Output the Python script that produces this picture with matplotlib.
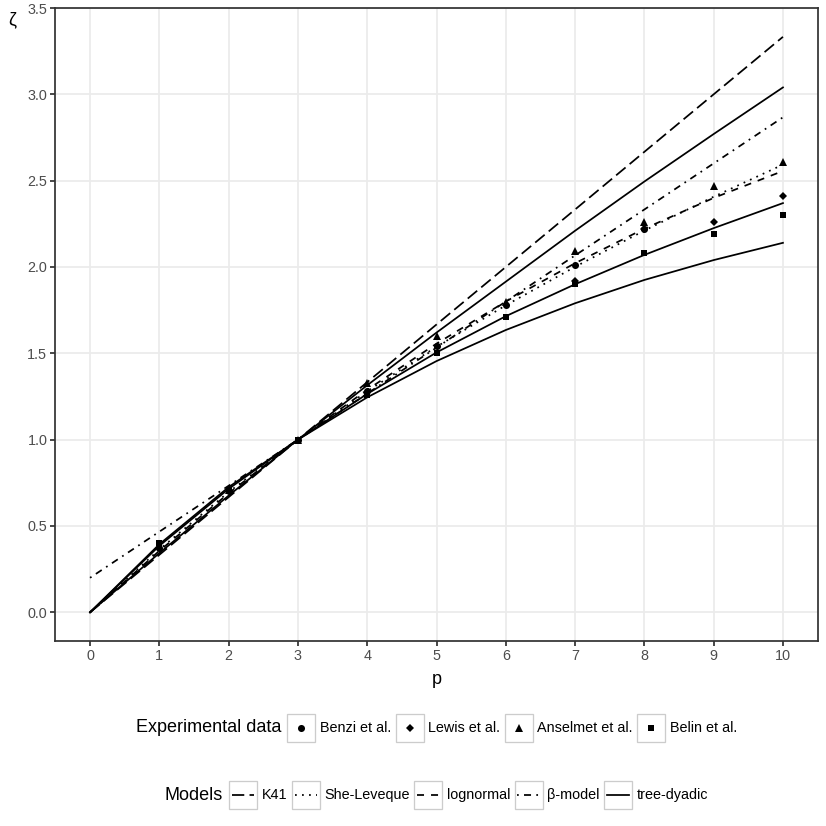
import numpy as np
import matplotlib
matplotlib.use('Agg')
import matplotlib.pyplot as plt
from matplotlib.patches import Rectangle

plt.rcParams['font.family'] = ['Liberation Sans', 'DejaVu Sans']

# model curves at p = 0..10
p = np.arange(0, 11)
k41 = [0, 0.333, 0.667, 1.0, 1.333, 1.667, 2.0, 2.333, 2.667, 3.0, 3.333]
she_leveque = [0, 0.364, 0.696, 1.0, 1.280, 1.538, 1.778, 2.001, 2.211, 2.407, 2.593]
lognormal = [0, 0.356, 0.689, 1.0, 1.289, 1.556, 1.800, 2.022, 2.222, 2.400, 2.556]
beta_model = [0.2, 0.467, 0.733, 1.0, 1.267, 1.533, 1.800, 2.067, 2.333, 2.600, 2.867]
tree_top = [0, 0.343, 0.676, 1.0, 1.315, 1.620, 1.915, 2.210, 2.495, 2.770, 3.040]
tree_mid = [0, 0.385, 0.715, 1.0, 1.265, 1.505, 1.715, 1.900, 2.070, 2.225, 2.370]
tree_low = [0, 0.394, 0.725, 1.0, 1.245, 1.455, 1.635, 1.790, 1.925, 2.040, 2.140]

# experimental data
benzi_p = [1, 2, 3, 4, 5, 6, 7, 8]
benzi_z = [0.37, 0.70, 1.0, 1.28, 1.54, 1.78, 2.01, 2.22]
lewis_p = [7, 8, 9, 10]
lewis_z = [1.92, 2.22, 2.26, 2.41]
anselmet_p = [2, 3, 4, 5, 6, 7, 8, 9, 10]
anselmet_z = [0.71, 1.0, 1.33, 1.60, 1.80, 2.09, 2.26, 2.47, 2.61]
belin_p = [1, 2, 3, 4, 5, 6, 7, 8, 9, 10]
belin_z = [0.40, 0.71, 1.0, 1.26, 1.50, 1.71, 1.90, 2.08, 2.19, 2.30]

data_labels = ['Benzi et al.', 'Lewis et al.', 'Anselmet et al.', 'Belin et al.']
model_labels = ['K41', 'She-Leveque', 'lognormal', 'β-model', 'tree-dyadic']

lw = 1.07
styles = {
    'K41': (0, (7, 3)),
    'She-Leveque': (0, (1, 3)),
    'lognormal': (0, (4, 4)),
    'β-model': (0, (1, 3, 4, 3)),
    'tree-dyadic': '-',
}
markers = {
    'Benzi et al.': ('o', 4.3),
    'Lewis et al.': ('D', 3.2),
    'Anselmet et al.': ('^', 5.0),
    'Belin et al.': ('s', 3.8),
}

W = 826
fig = plt.figure(figsize=(7, 7), dpi=118)
ax = fig.add_axes([55.4 / W, 1 - 641.1 / W, (817.6 - 55.4) / W, (641.1 - 8) / W])

ax.plot(p, k41, color='black', lw=lw, linestyle=styles['K41'])
ax.plot(p, she_leveque, color='black', lw=lw, linestyle=styles['She-Leveque'])
ax.plot(p, lognormal, color='black', lw=lw, linestyle=styles['lognormal'])
ax.plot(p, beta_model, color='black', lw=lw, linestyle=styles['β-model'])
for tree in (tree_top, tree_mid, tree_low):
    ax.plot(p, tree, color='black', lw=lw, linestyle='-')

for lab, xs, ys in zip(data_labels, [benzi_p, lewis_p, anselmet_p, belin_p],
                       [benzi_z, lewis_z, anselmet_z, belin_z]):
    m, ms = markers[lab]
    ax.plot(xs, ys, linestyle='none', marker=m, ms=ms, color='black', mec='none')

ax.set_xlim(-0.5, 10.5)
ax.set_ylim(-0.1667, 3.5)
ax.set_xticks(range(11))
yt = np.arange(0, 3.51, 0.5)
ax.set_yticks(yt)
ax.set_yticklabels(['%.1f' % v for v in yt])
ax.grid(color='#EBEBEB', lw=lw)
ax.set_axisbelow(True)
for s in ax.spines.values():
    s.set_color('#333333')
    s.set_linewidth(lw)
ax.tick_params(length=2.75, width=lw, color='#333333', labelcolor='#4D4D4D',
               labelsize=8.8, pad=2.2)

ax.set_xlabel('p', fontsize=11)
ax.xaxis.set_label_coords(0.5, (641.1 - 680) / (641.1 - 8))
ax.xaxis.label.set_va('center')
ax.set_ylabel('ζ', fontsize=11, rotation=0, ha='center', va='top')
ax.yaxis.set_label_coords((12 - 55.4) / (817.6 - 55.4), 0.995)

# legends drawn by hand in pixel coordinates
lax = fig.add_axes([0, 0, 1, 1], zorder=-1)
lax.set_xlim(0, W)
lax.set_ylim(W, 0)
lax.axis('off')
renderer = fig.canvas.get_renderer()


def text_width(s, size):
    t = lax.text(0, 0, s, fontsize=size)
    w = t.get_window_extent(renderer).width
    t.remove()
    return w


key = 28
centre = (55.4 + 817.6) / 2


def draw_legend(title, labels, cy, draw_key):
    tw = text_width(title, 11)
    lws = [text_width(l, 8.8) for l in labels]
    total = tw + 6 + len(labels) * (key + 4.5) + sum(lws) + (len(labels) - 1) * 4.5
    x = centre - total / 2
    lax.text(x, cy, title, fontsize=11, va='center', ha='left')
    x += tw + 6
    for lab, w in zip(labels, lws):
        lax.add_patch(Rectangle((x, cy - key / 2), key, key, facecolor='white',
                                edgecolor='#CCCCCC', lw=0.8))
        draw_key(lab, x, cy)
        x += key + 4.5
        lax.text(x, cy, lab, fontsize=8.8, va='center', ha='left')
        x += w + 4.5


def point_key(lab, x, cy):
    m, ms = markers[lab]
    lax.plot([x + key / 2], [cy], marker=m, ms=ms, color='black', mec='none')


def line_key(lab, x, cy):
    lax.plot([x + 0.1 * key, x + 0.9 * key], [cy, cy], color='black', lw=lw,
             linestyle=styles[lab])


draw_legend('Experimental data', data_labels, 728, point_key)
draw_legend('Models', model_labels, 795, line_key)

fig.savefig('out.png', dpi=118)
